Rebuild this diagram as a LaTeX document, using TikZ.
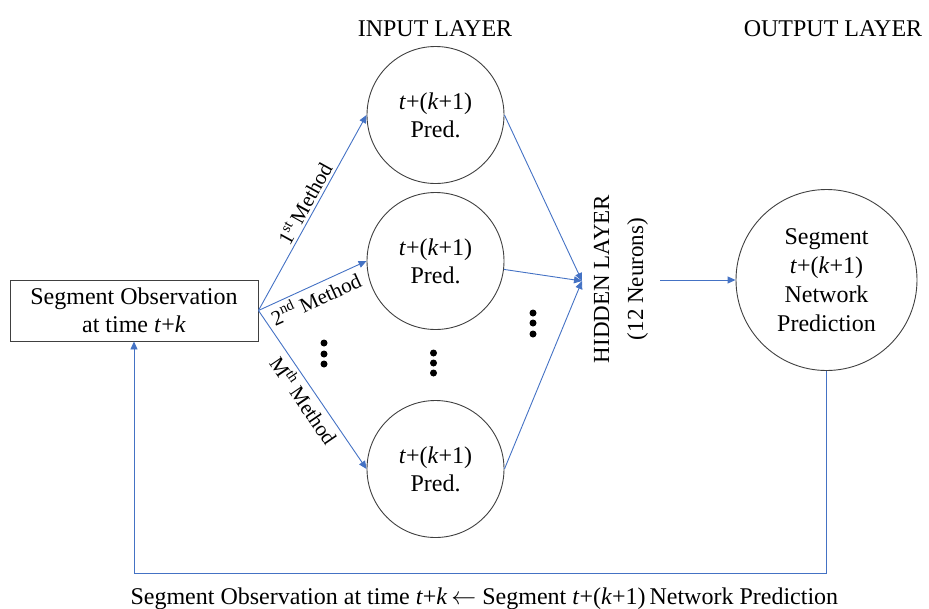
\documentclass[tikz,border=0pt]{standalone}
\usepackage{fontspec}
\setmainfont{Liberation Serif}
\usetikzlibrary{arrows.meta}
\definecolor{arrblue}{HTML}{4472C4}
\definecolor{edgegray}{HTML}{404040}
\begin{document}
\begin{tikzpicture}[x=1pt,y=-1pt,
  every node/.style={font=\fontsize{24}{28}\selectfont},
  neuron/.style={circle,draw=edgegray,line width=0.9pt,minimum size=137pt,inner sep=0pt,align=center},
  outneuron/.style={neuron,minimum size=181pt,font=\fontsize{24}{29}\selectfont},
  obsbox/.style={draw=edgegray,line width=0.9pt,minimum width=248pt,minimum height=61pt,inner sep=0pt,align=center},
  link/.style={draw=arrblue,line width=0.9pt,-{Triangle[length=8pt,width=7pt]}},
  lbl/.style={font=\fontsize{21}{24}\selectfont,sloped,inner sep=3pt},
  dot/.style={circle,fill=black,inner sep=0pt,minimum size=7pt},
  title/.style={anchor=base},
]
\useasboundingbox (0,0) rectangle (929,608);

% titles
\node[title] (tin) at (435,36) {INPUT LAYER};
\node[title] (tout) at (833,36) {OUTPUT LAYER};

% observation box
\node[obsbox] (obs) at (134,310.5) {Segment Observation\\at time \textit{t}+\textit{k}};

% input neurons
\node[neuron] (p1) at (435.5,115) {\textit{t}+(\textit{k}+1)\\Pred.};
\node[neuron] (p2) at (435.5,261) {\textit{t}+(\textit{k}+1)\\Pred.};
\node[neuron] (p3) at (435.5,469) {\textit{t}+(\textit{k}+1)\\Pred.};

% hidden layer
\coordinate (hid) at (582,281);
\node[rotate=90,align=center,font=\fontsize{23}{34}\selectfont] (hl) at (621,279) {HIDDEN LAYER\\(12 Neurons)};
\coordinate (hout) at (660,280);

% output neuron
\node[outneuron] (out) at (826.5,280) {Segment\\\textit{t}+(\textit{k}+1)\\Network\\Prediction};

% dots
\foreach \i/\x/\y in {a/324/343, b/324/354, c/324/364, d/433.5/353, e/433.5/363, f/433.5/373, g/533/313, h/533/323, k/533/334}
  \node[dot] (dot\i) at (\x,\y) {};

% arrows from observation box
\draw[link] (obs.east) -- node[lbl,above,pos=0.52] {1\textsuperscript{st}\,Method} (p1.west);
\draw[link] (obs.east) -- node[lbl,below,pos=0.48] {2\textsuperscript{nd} Method} (p2.west);
\draw[link] (obs.east) -- node[lbl,below,pos=0.52] {M\textsuperscript{th} Method} (p3.west);

% arrows to hidden layer
\draw[link] (p1.east) -- (hid);
\draw[link] (p2.-7) -- (hid);
\draw[link] (p3.east) -- (hid);

% hidden to output
\draw[link] (hout) -- (out.west);

% feedback loop
\draw[link] (out.south) -- ++(0,202) -| (obs.south);

% caption
\node[anchor=base west] (cap) at (127,604) {Segment Observation at time \textit{t}+\textit{k}\,$\leftarrow$ Segment \textit{t}+(\textit{k}+1)\,Network Prediction};
\end{tikzpicture}
\end{document}
